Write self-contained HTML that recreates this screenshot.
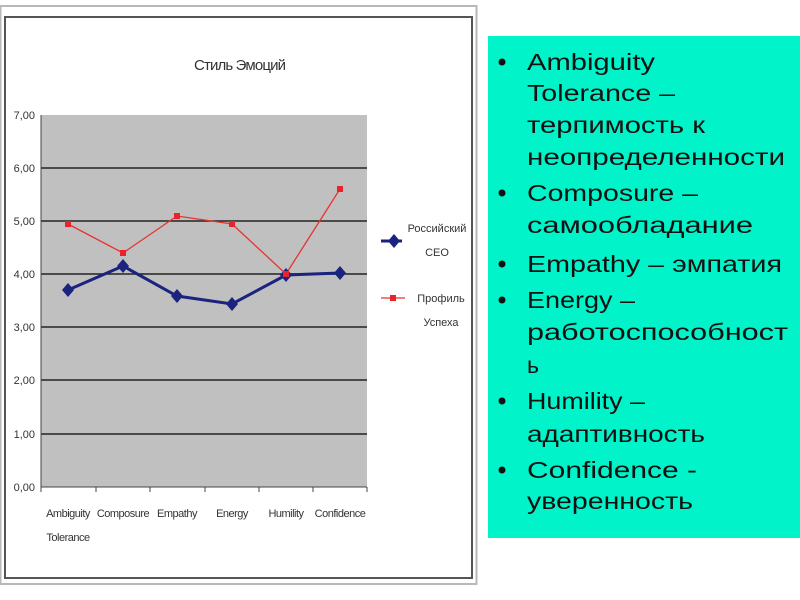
<!DOCTYPE html>
<html><head><meta charset="utf-8"><style>
body{margin:0;background:#fff;width:800px;height:600px;overflow:hidden}
svg{display:block}
</style></head><body>
<svg width="800" height="600" xmlns="http://www.w3.org/2000/svg" font-family="Liberation Sans, sans-serif">
<rect x="0.5" y="6" width="476" height="578" fill="#fff" stroke="#b8b8b8" stroke-width="2"/>
<rect x="5" y="17" width="467" height="561" fill="#fff" stroke="#555" stroke-width="2"/>
<text x="240" y="70" font-size="15" fill="#333" text-anchor="middle" textLength="92">Стиль Эмоций</text>
<rect x="41" y="115" width="326" height="372" fill="#c0c0c0"/>
<g stroke="#222" stroke-width="1.6">
<line x1="41" y1="168" x2="367" y2="168"/><line x1="41" y1="221" x2="367" y2="221"/>
<line x1="41" y1="274" x2="367" y2="274"/><line x1="41" y1="327" x2="367" y2="327"/>
<line x1="41" y1="380" x2="367" y2="380"/><line x1="41" y1="434" x2="367" y2="434"/>
</g>
<g stroke="#444" stroke-width="1">
<line x1="41" y1="487" x2="367" y2="487"/><line x1="41" y1="115" x2="41" y2="492"/>
<line x1="96" y1="487" x2="96" y2="492"/><line x1="150" y1="487" x2="150" y2="492"/><line x1="205" y1="487" x2="205" y2="492"/><line x1="259" y1="487" x2="259" y2="492"/><line x1="313" y1="487" x2="313" y2="492"/><line x1="367" y1="487" x2="367" y2="492"/>
</g>
<g font-size="11" fill="#333" text-anchor="end">
<text x="35" y="119">7,00</text><text x="35" y="172">6,00</text><text x="35" y="225">5,00</text><text x="35" y="278">4,00</text><text x="35" y="331">3,00</text><text x="35" y="384">2,00</text><text x="35" y="438">1,00</text><text x="35" y="491">0,00</text>
</g>
<g font-size="11" fill="#333" text-anchor="middle" letter-spacing="-0.5">
<text x="68" y="517">Ambiguity</text><text x="68" y="541">Tolerance</text><text x="123" y="517">Composure</text><text x="177" y="517">Empathy</text><text x="232" y="517">Energy</text><text x="286" y="517">Humility</text><text x="340" y="517">Confidence</text>
</g>
<polyline points="68,224 123,253 177,216 232,224 286,274 340,189" fill="none" stroke="#e8332e" stroke-width="1.3"/>
<polyline points="68,290 123,266 177,296 232,304 286,275 340,273" fill="none" stroke="#1a237e" stroke-width="3"/>
<g fill="#1a237e">
<path d="M68,283l6,7-6,7-6-7z"/><path d="M123,259l6,7-6,7-6-7z"/><path d="M177,289l6,7-6,7-6-7z"/><path d="M232,297l6,7-6,7-6-7z"/><path d="M286,268l6,7-6,7-6-7z"/><path d="M340,266l6,7-6,7-6-7z"/>
</g>
<g fill="#e8232a">
<rect x="65" y="221" width="6" height="6"/><rect x="120" y="250" width="6" height="6"/><rect x="174" y="213" width="6" height="6"/><rect x="229" y="221" width="6" height="6"/><rect x="283" y="271" width="6" height="6"/><rect x="337" y="186" width="6" height="6"/>
</g>
<line x1="381" y1="241" x2="402" y2="241" stroke="#1a237e" stroke-width="3"/><path d="M394,234l6,7-6,7-6-7z" fill="#1a237e"/>
<line x1="381" y1="298" x2="405" y2="298" stroke="#e8332e" stroke-width="1.3"/><rect x="390" y="295" width="6" height="6" fill="#e8232a"/>
<g font-size="11" fill="#333" text-anchor="middle">
<text x="437" y="232">Российский</text><text x="437" y="256">CEO</text><text x="441" y="302">Профиль</text><text x="441" y="326">Успеха</text>
</g>
<rect x="488" y="36" width="312" height="502" fill="#00f3c9"/>
<g font-size="23" fill="#111">
<circle cx="502" cy="62" r="3.5"/><circle cx="502" cy="193" r="3.5"/><circle cx="502" cy="264" r="3.5"/><circle cx="502" cy="300" r="3.5"/><circle cx="502" cy="401" r="3.5"/><circle cx="502" cy="470" r="3.5"/>
<text x="527" y="70" textLength="128" lengthAdjust="spacingAndGlyphs">Ambiguity</text>
<text x="527" y="101" textLength="148" lengthAdjust="spacingAndGlyphs">Tolerance –</text>
<text x="527" y="133" textLength="178" lengthAdjust="spacingAndGlyphs">терпимость к</text>
<text x="527" y="165" textLength="258" lengthAdjust="spacingAndGlyphs">неопределенности</text>
<text x="527" y="201" textLength="171" lengthAdjust="spacingAndGlyphs">Composure –</text>
<text x="527" y="233" textLength="226" lengthAdjust="spacingAndGlyphs">самообладание</text>
<text x="527" y="272" textLength="255" lengthAdjust="spacingAndGlyphs">Empathy – эмпатия</text>
<text x="527" y="308" textLength="108" lengthAdjust="spacingAndGlyphs">Energy –</text>
<text x="527" y="340" textLength="261" lengthAdjust="spacingAndGlyphs">работоспособност</text>
<text x="527" y="373">ь</text>
<text x="527" y="409" textLength="118" lengthAdjust="spacingAndGlyphs">Humility –</text>
<text x="527" y="442" textLength="178" lengthAdjust="spacingAndGlyphs">адаптивность</text>
<text x="527" y="478" textLength="170" lengthAdjust="spacingAndGlyphs">Confidence -</text>
<text x="527" y="509" textLength="166" lengthAdjust="spacingAndGlyphs">уверенность</text>
</g>
</svg>
</body></html>
